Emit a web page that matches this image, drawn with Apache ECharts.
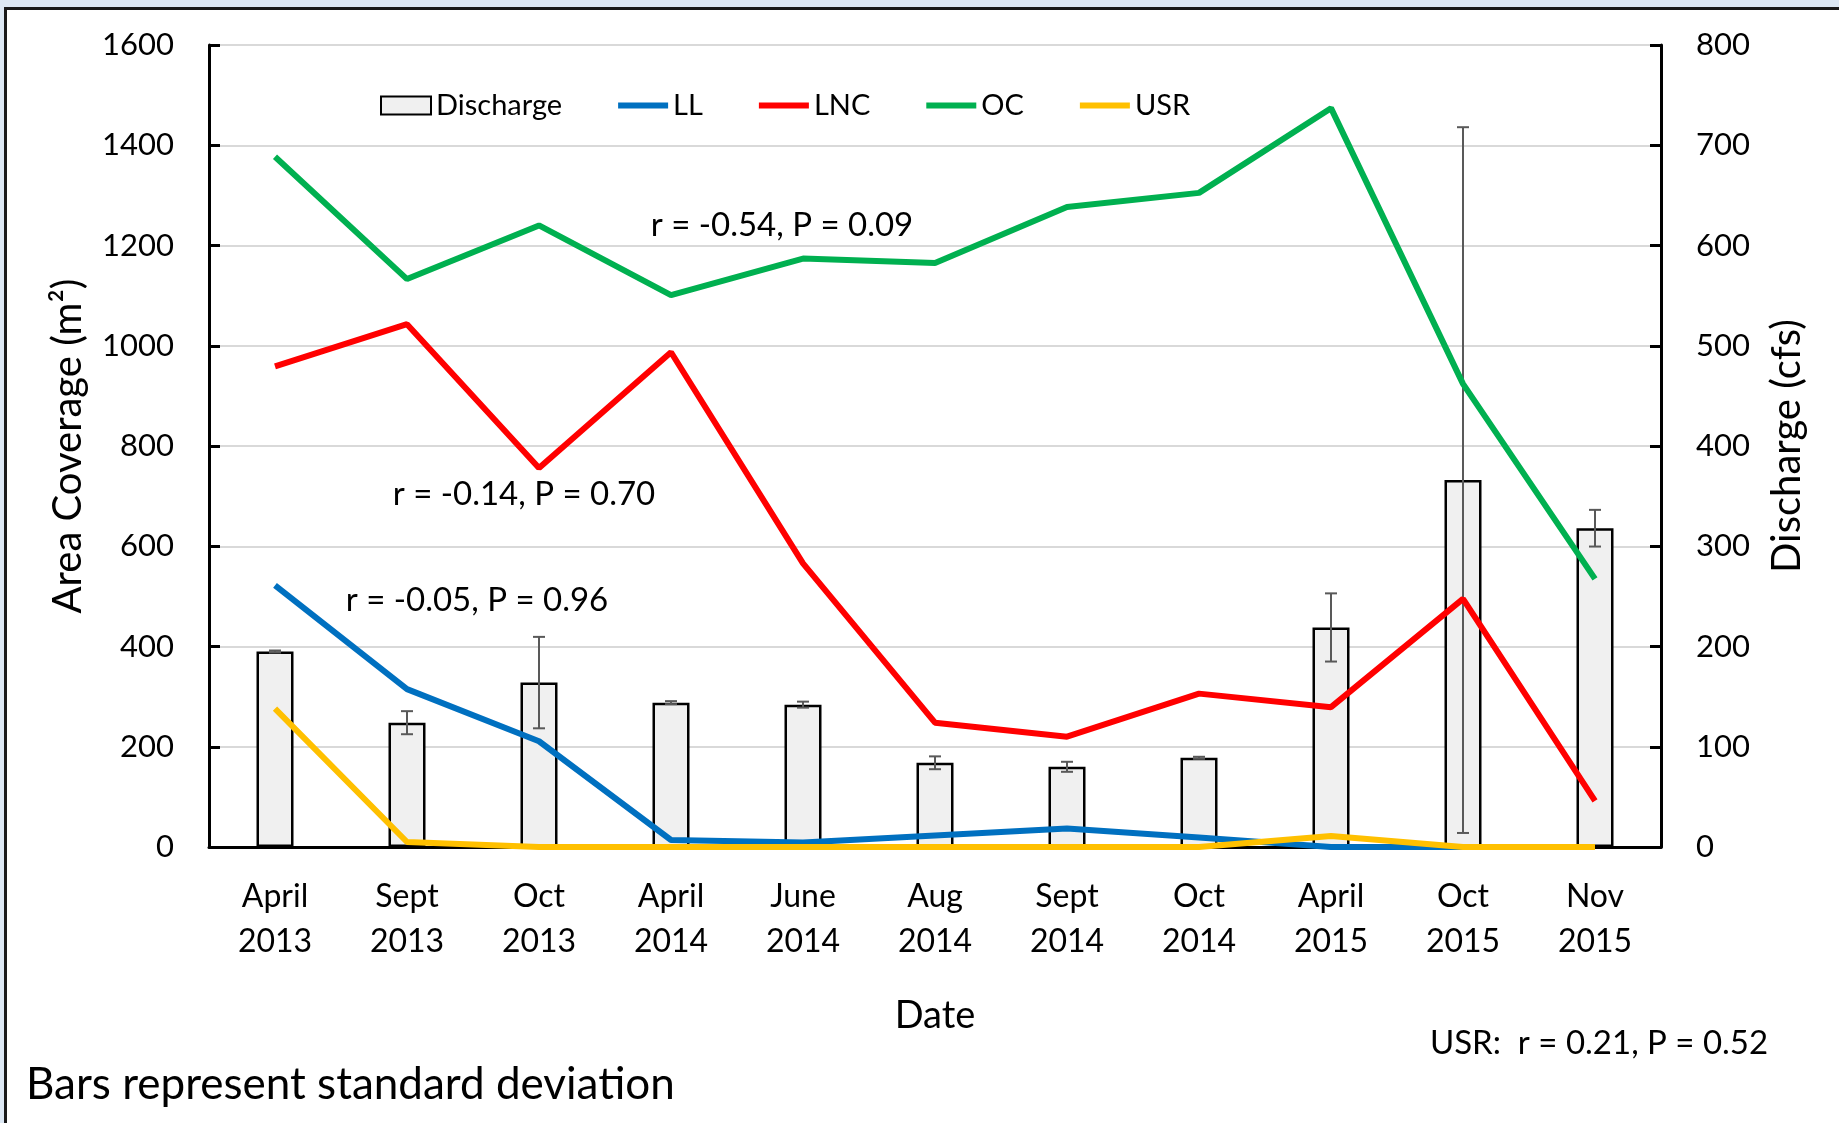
<!DOCTYPE html>
<html>
<head>
<meta charset="utf-8">
<script src="https://cdn.jsdelivr.net/npm/echarts@6/dist/echarts.min.js"></script>
<style>
html,body{margin:0;padding:0;background:#fff;}
#chart{width:1839px;height:1123px;}
</style>
</head>
<body>
<div id="chart"></div>
<script>
const categories = ['April\n2013','Sept\n2013','Oct\n2013','April\n2014','June\n2014','Aug\n2014','Sept\n2014','Oct\n2014','April\n2015','Oct\n2015','Nov\n2015'];
const discharge   = [195, 124, 164, 144, 142, 84, 80, 89, 219, 366, 318];
const dischargeSD = [1, 11.5, 45.6, 1.5, 3, 6.4, 5, 1, 34, 352, 18.3];
const LL  = [522, 315, 211, 14, 9, 23, 37, 19, 0, 0, 0];
const LNC = [959, 1043, 756, 987, 566, 248, 220, 306, 279, 495, 92];
const OC  = [1377, 1133, 1240, 1101, 1174, 1165, 1277, 1305, 1474, 924, 535];
const USR = [276, 10, 0, 0, 0, 0, 0, 0, 22, 0, 0];
const leftTicks = {min: 0, max: 1600, interval: 200};
const rightTicks = {min: 0, max: 800, interval: 100};
const annotations = [
  {text: 'r = -0.54, P = 0.09', x: 782, y: 225},
  {text: 'r = -0.14, P = 0.70', x: 524, y: 494},
  {text: 'r = -0.05, P = 0.96', x: 477, y: 600}
];
const usrNote = 'USR:  r = 0.21, P = 0.52';
const footNote = 'Bars represent standard deviation';

const FONT = 'Lato';
const errData = discharge.map((v, i) => [i, v - dischargeSD[i], v + dischargeSD[i]]);
const LINE_ICON = 'path://M0,0H50V6H0Z';

const chart = echarts.init(document.getElementById('chart'), null, {renderer: 'canvas'});
const lineSeries = (name, data, color) => ({
  name, type: 'line', data, yAxisIndex: 0, symbol: 'none', showSymbol: false,
  lineStyle: {color, width: 6}, itemStyle: {color}, z: 4, animation: false
});

chart.setOption({
  animation: false,
  backgroundColor: '#ffffff',
  textStyle: {fontFamily: FONT, color: '#000'},
  grid: {left: 209, right: 178, top: 45, bottom: 276, containLabel: false},
  legend: {
    left: 375, top: 86, itemWidth: 50, itemHeight: 18, itemGap: 56,
    textStyle: {fontFamily: FONT, fontSize: 29, color: '#000'},
    data: [
      {name: 'Discharge', icon: 'rect'},
      {name: 'LL', icon: LINE_ICON},
      {name: 'LNC', icon: LINE_ICON},
      {name: 'OC', icon: LINE_ICON},
      {name: 'USR', icon: LINE_ICON}
    ]
  },
  xAxis: {
    type: 'category', data: categories, boundaryGap: true,
    name: 'Date', nameLocation: 'middle', nameGap: 150,
    nameTextStyle: {fontFamily: FONT, fontSize: 38, color: '#000'},
    axisLine: {lineStyle: {color: '#000', width: 3}},
    axisTick: {show: false},
    axisLabel: {fontFamily: FONT, fontSize: 32, color: '#000', lineHeight: 45, margin: 27, interval: 0}
  },
  yAxis: [
    {
      type: 'value', min: leftTicks.min, max: leftTicks.max, interval: leftTicks.interval,
      name: 'Area Coverage (m²)', nameLocation: 'middle', nameGap: 121, nameRotate: 90,
      nameTextStyle: {fontFamily: FONT, fontSize: 40, color: '#000'},
      axisLine: {show: true, lineStyle: {color: '#000', width: 3}},
      axisTick: {show: true, inside: true, length: 11, lineStyle: {color: '#000', width: 3}},
      axisLabel: {fontFamily: FONT, fontSize: 31, color: '#000', margin: 35, formatter: v => String(v)},
      splitLine: {show: true, lineStyle: {color: '#d9d9d9', width: 2}}
    },
    {
      type: 'value', min: rightTicks.min, max: rightTicks.max, interval: rightTicks.interval,
      name: 'Discharge (cfs)', nameLocation: 'middle', nameGap: 106, nameRotate: 90,
      nameTextStyle: {fontFamily: FONT, fontSize: 40, color: '#000'},
      axisLine: {show: true, lineStyle: {color: '#000', width: 3}},
      axisTick: {show: true, inside: true, length: 11, lineStyle: {color: '#000', width: 3}},
      axisLabel: {fontFamily: FONT, fontSize: 31, color: '#000', margin: 35, formatter: v => String(v)},
      splitLine: {show: false}
    }
  ],
  series: [
    {
      name: 'Discharge', type: 'bar', data: discharge, yAxisIndex: 1, barWidth: 37,
      itemStyle: {color: '#f0f0f0', borderColor: '#000', borderWidth: 2.5}, z: 2
    },
    {
      name: 'SD', type: 'custom', yAxisIndex: 1, data: errData, z: 3,
      renderItem: function (params, api) {
        const lo = api.coord([api.value(0), api.value(1)]);
        const hi = api.coord([api.value(0), api.value(2)]);
        const h = 6;
        const st = {stroke: '#595959', lineWidth: 2};
        return {type: 'group', children: [
          {type: 'line', shape: {x1: lo[0], y1: lo[1], x2: hi[0], y2: hi[1]}, style: st},
          {type: 'line', shape: {x1: hi[0] - h, y1: hi[1], x2: hi[0] + h, y2: hi[1]}, style: st},
          {type: 'line', shape: {x1: lo[0] - h, y1: lo[1], x2: lo[0] + h, y2: lo[1]}, style: st}
        ]};
      }
    },
    lineSeries('LL', LL, '#0070c0'),
    lineSeries('LNC', LNC, '#ff0000'),
    lineSeries('OC', OC, '#00b050'),
    lineSeries('USR', USR, '#ffc000')
  ],
  graphic: [
    {type: 'rect', shape: {x: 0, y: 0, width: 1839, height: 7}, style: {fill: '#dde8f4'}, silent: true},
    {type: 'rect', shape: {x: 0, y: 0, width: 4, height: 1123}, style: {fill: '#dde8f4'}, silent: true},
    {type: 'rect', shape: {x: 4, y: 7, width: 1835, height: 3}, style: {fill: '#1a1a1a'}, silent: true},
    {type: 'rect', shape: {x: 4, y: 7, width: 3, height: 1116}, style: {fill: '#1a1a1a'}, silent: true}
  ].concat(annotations.map(a => ({
    type: 'text', x: a.x, y: a.y, z: 10,
    style: {text: a.text, fontFamily: FONT, fontSize: 33, fill: '#000', align: 'center', verticalAlign: 'middle'}
  }))).concat([
    {type: 'text', x: 1599, y: 1043, z: 10,
     style: {text: usrNote, fontFamily: FONT, fontSize: 33, fill: '#000', align: 'center', verticalAlign: 'middle'}},
    {type: 'text', x: 26, y: 1085, z: 10,
     style: {text: footNote, fontFamily: FONT, fontSize: 44, fill: '#000', align: 'left', verticalAlign: 'middle'}}
  ])
});
</script>
</body>
</html>
